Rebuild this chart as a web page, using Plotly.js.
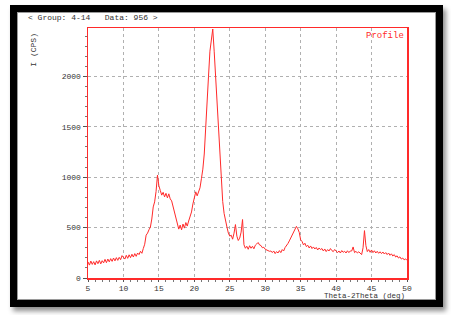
<!DOCTYPE html>
<html>
<head>
<meta charset="utf-8">
<script src="https://cdn.plot.ly/plotly-3.0.1.min.js"></script>
<style>
  html, body { margin: 0; padding: 0; background: #ffffff; width: 451px; height: 315px; overflow: hidden; }
  #frame { position: absolute; left: 10px; top: 5px; width: 419px; height: 288px; border: 7px solid #000; background: #fff; box-shadow: 3px 4px 5px rgba(0,0,0,0.45); }
  #inner { position: absolute; left: 0; top: 0; right: 0; bottom: 0; border: 1px solid #9a9a9a; }
  #chart { position: absolute; left: 0; top: 0; width: 451px; height: 315px; }
</style>
</head>
<body>
<div id="frame"><div id="inner"></div></div>
<div id="chart"></div>
<script>
// Scan settings (degrees 2-theta)
const startAngle = 5.0;
const stepAngle = 0.2;

// Intensity (CPS), one value per 0.2 deg from 5.0 to 50.0
const intensity = [
  160,128,168,135,162,130,170,142,175,140,172,150,185,152,188,160,
  192,165,198,170,202,175,205,182,222,198,
  188,225,195,230,202,236,208,242,215,248,
  232,265,245,292,335,425,445,478,505,585,
  705,755,858,1020,915,868,822,850,805,840,
  795,835,785,765,705,655,585,545,485,525,
  478,535,495,550,515,565,605,655,735,805,
  855,815,865,895,985,1080,1230,1450,1750,2000,
  2250,2380,2470,2250,2000,1700,1420,1220,980,760,
  640,560,505,445,415,425,385,445,530,415,
  372,395,455,580,330,295,315,285,320,295,
  315,290,325,338,352,328,322,300,305,285,
  278,275,265,268,252,268,242,262,248,272,
  252,282,268,302,318,342,368,398,418,448,
  478,512,488,452,378,362,328,345,312,325,
  298,318,292,308,288,303,278,298,282,292,
  268,288,262,282,268,292,272,262,283,268,
  252,268,248,272,255,265,248,270,252,268,
  268,308,252,265,248,260,242,232,300,470,
  322,262,282,255,278,252,270,248,265,245,
  260,242,258,238,252,232,248,225,240,218,
  232,208,220,198,210,188,198,180,190,175
];

// Axis / label texts
const headerText = "&lt; Group: 4-14   Data: 956 &gt;";
const yTitleText = "I (CPS)";
const xTitleText = "Theta-2Theta (deg)";
const legendText = "Profile";
const xTickVals = [5,10,15,20,25,30,35,40,45,50];
const yTickVals = [0,500,1000,1500,2000];

const angles = intensity.map((_, i) => +(startAngle + i * stepAngle).toFixed(2));

const mono = "Liberation Mono, DejaVu Sans Mono, monospace";
const red = "#ff2a2a";

const trace = {
  x: angles,
  y: intensity,
  type: "scatter",
  mode: "lines",
  line: { color: red, width: 1 },
  hoverinfo: "skip"
};

const layout = {
  width: 451,
  height: 315,
  margin: { l: 88, r: 44, t: 28, b: 37, pad: 0 },
  paper_bgcolor: "rgba(0,0,0,0)",
  plot_bgcolor: "#ffffff",
  showlegend: false,
  xaxis: {
    range: [5, 50],
    tickvals: xTickVals,
    ticktext: xTickVals.map(String),
    ticks: "outside",
    ticklen: 2,
    tickcolor: "#555",
    showgrid: true,
    gridcolor: "#b0b0b0",
    griddash: "dot",
    gridwidth: 1,
    showline: true,
    linecolor: red,
    linewidth: 1.5,
    mirror: true,
    zeroline: false,
    tickfont: { family: mono, size: 8, color: "#333" },
    minor: { dtick: 1, ticks: "outside", ticklen: 2, tickcolor: "#777", showgrid: false }
  },
  yaxis: {
    range: [0, 2480],
    tickvals: yTickVals,
    ticktext: yTickVals.map(String),
    ticks: "outside",
    ticklen: 4,
    tickcolor: "#555",
    showgrid: true,
    gridcolor: "#b0b0b0",
    griddash: "dot",
    gridwidth: 1,
    showline: true,
    linecolor: red,
    linewidth: 1.5,
    mirror: true,
    zeroline: false,
    tickfont: { family: mono, size: 8, color: "#333" },
    minor: { dtick: 100, ticks: "outside", ticklen: 2, tickcolor: "#777", showgrid: false }
  },
  annotations: [
    { text: headerText, xref: "paper", yref: "paper", x: -0.195, y: 1.04, xanchor: "left", yanchor: "middle",
      showarrow: false, font: { family: mono, size: 8, color: "#333" } },
    { text: yTitleText, xref: "paper", yref: "paper", x: -0.172, y: 0.99, xanchor: "center", yanchor: "top",
      textangle: -90, showarrow: false, font: { family: mono, size: 8, color: "#333" } },
    { text: legendText, xref: "paper", yref: "paper", x: 1, y: 1, xanchor: "right", yanchor: "top",
      xshift: -1, yshift: -1, showarrow: false, font: { family: mono, size: 9, color: red } },
    { text: xTitleText, xref: "paper", yref: "paper", x: 1, y: -0.071, xanchor: "right", yanchor: "middle",
      showarrow: false, font: { family: mono, size: 7.5, color: "#333" } }
  ]
};

Plotly.newPlot("chart", [trace], layout, { staticPlot: true, displayModeBar: false });
</script>
</body>
</html>
